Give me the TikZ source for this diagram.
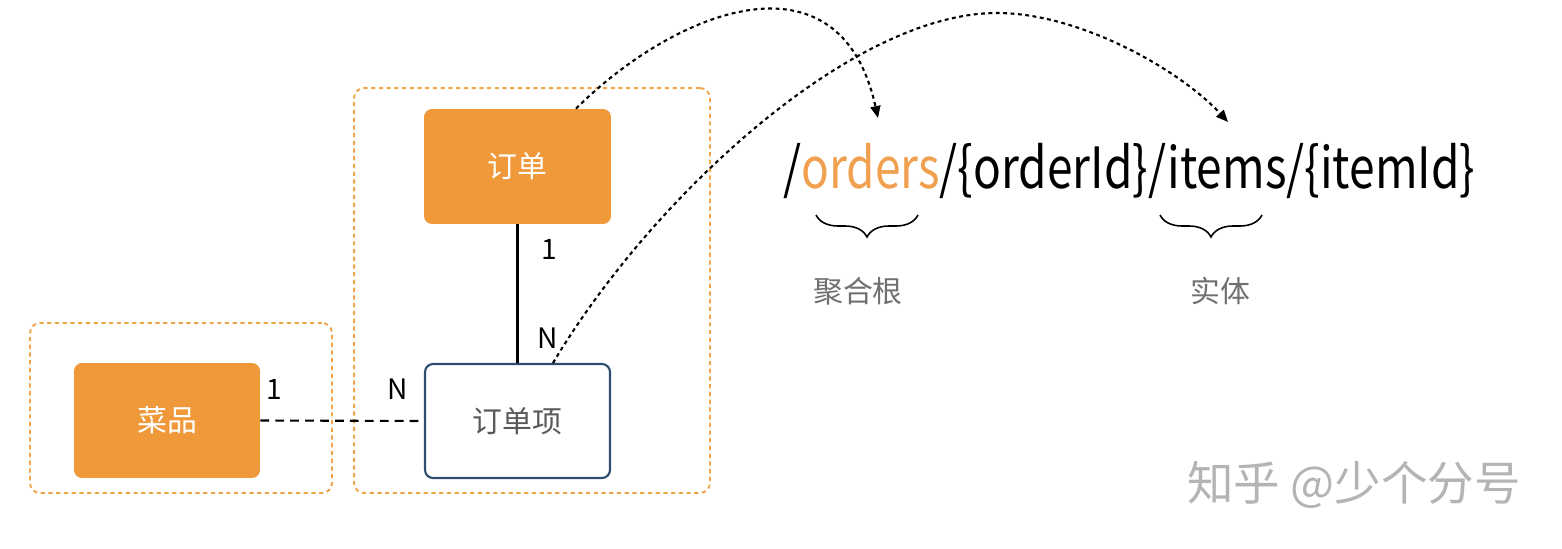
\documentclass[tikz,border=0pt]{standalone}
\usepackage{fontspec}
\setmainfont{Noto Sans CJK SC}
\usetikzlibrary{arrows.meta,decorations.pathreplacing}
\definecolor{orfill}{HTML}{F0993A}
\definecolor{ordash}{HTML}{F0A54A}
\definecolor{ortext}{HTML}{F0A04E}
\definecolor{bluebd}{HTML}{2D4E6E}
\definecolor{graytx}{HTML}{707070}
\definecolor{wmark}{HTML}{B4B4B4}
\begin{document}
\begin{tikzpicture}[x=0.02cm,y=-0.02cm,
  container/.style={draw=ordash,line width=1.1pt,dash pattern=on 2.4pt off 2pt,rounded corners=0.2cm},
  entity/.style={fill=orfill,rounded corners=0.16cm,text=white,font=\fontsize{17pt}{20pt}\selectfont,inner sep=0pt},
  subentity/.style={draw=bluebd,fill=white,line width=1.2pt,rounded corners=0.16cm,text=graytx!80!black,font=\fontsize{17pt}{20pt}\selectfont,inner sep=0pt},
  card/.style={font=\fontsize{16pt}{19pt}\selectfont,inner sep=0pt},
  relsolid/.style={line width=1.3pt},
  reldash/.style={line width=1.2pt,dash pattern=on 5pt off 3.5pt},
  pointer/.style={line width=1.2pt,dash pattern=on 2.2pt off 2pt,-{Triangle[length=0.24cm,width=0.2cm]}},
  bracestyle/.style={decorate,decoration={brace,amplitude=0.44cm},line width=0.9pt},
  caption/.style={text=graytx,font=\fontsize{17pt}{20pt}\selectfont,inner sep=0pt}
]
\useasboundingbox (0,0) rectangle (1562,548);
% containers
\node[container,minimum width=6.04cm,minimum height=3.4cm] (cl) at (181,408) {};
\node[container,minimum width=7.12cm,minimum height=8.1cm] (cr) at (532,290.5) {};
% entities
\node[entity,minimum width=3.74cm,minimum height=2.3cm] (dd) at (517.5,166.5) {订单};
\node[entity,minimum width=3.72cm,minimum height=2.3cm] (cp) at (167,420.5) {菜品};
\node[subentity,minimum width=3.7cm,minimum height=2.28cm] (ddx) at (517.5,421) {订单项};
% relations
\draw[relsolid] (dd.south) -- (ddx.north);
\draw[reldash] (cp.east) -- (ddx.west);
\node[card] (c1) at (549,249) {1};
\node[card] (c2) at (548,338) {N};
\node[card] (c3) at (274,389) {1};
\node[card] (c4) at (398,389) {N};
% URL
\node[anchor=base west,inner sep=0pt,font=\fontsize{32pt}{38pt}\selectfont] (url) at (783,188)
  {\resizebox{13.84cm}{!}{\scalebox{0.81}[1]{/\textcolor{ortext}{orders}/\{orderId\}/items/\{itemId\}}}};
% braces
\coordinate (b1r) at (918,215); \coordinate (b1l) at (816,215);
\coordinate (b2r) at (1262,215); \coordinate (b2l) at (1160,215);
\draw[bracestyle] (b1r) -- (b1l);
\draw[bracestyle] (b2r) -- (b2l);
\node[caption] (agg) at (858,291) {聚合根};
\node[caption] (ent) at (1220,291) {实体};
% pointers
\coordinate (s1) at ([xshift=1.17cm]dd.north);
\coordinate (e1) at (878,118);
\coordinate (s2) at ([xshift=0.71cm]ddx.north);
\coordinate (m2) at (997,13);
\coordinate (e2) at (1228,122);
\draw[pointer] (s1) .. controls (675,10) and (840,-55) .. (e1);
\draw[pointer] (s2) .. controls (650,200) and (850,13) .. (m2) .. controls (1080,13) and (1180,70) .. (e2);
% watermark
\node[text=wmark,inner sep=0pt,font=\fontsize{26.5pt}{30pt}\selectfont] (wm) at (1354,485) {知乎 @少个分号};
\end{tikzpicture}
\end{document}
